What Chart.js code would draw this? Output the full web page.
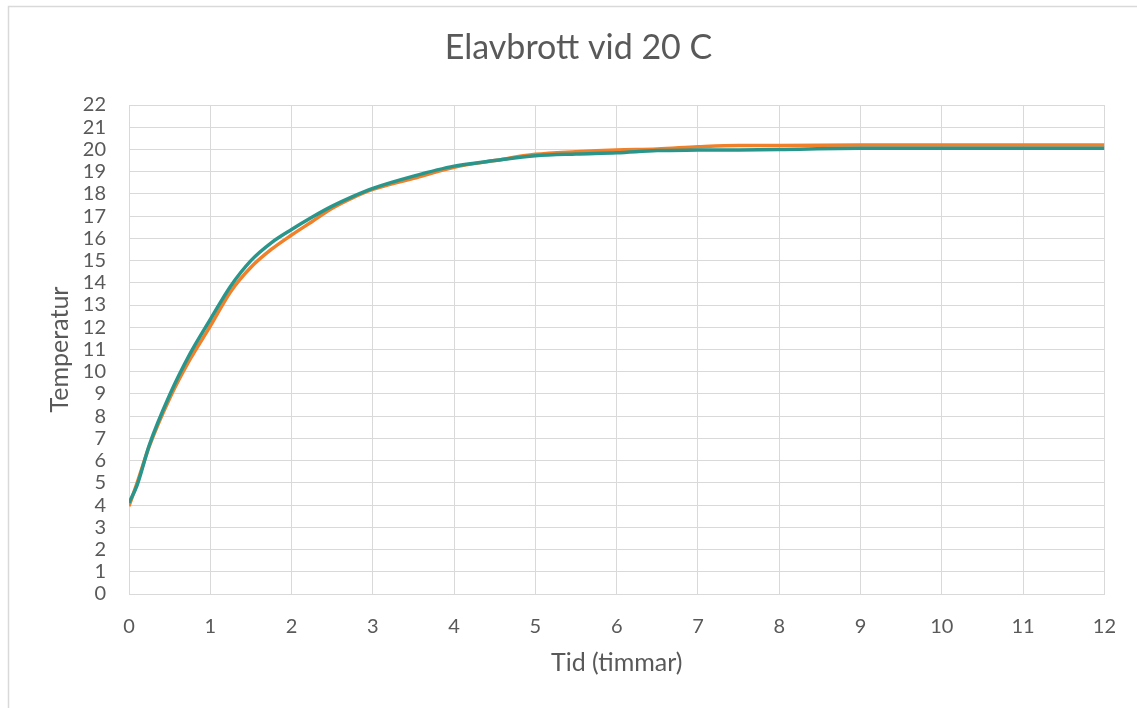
<!DOCTYPE html>
<html>
<head>
<meta charset="utf-8">
<script src="https://cdn.jsdelivr.net/npm/chart.js@4/dist/chart.umd.min.js"></script>
<style>
  html, body { margin: 0; padding: 0; background: #ffffff; }
  #wrap { width: 1137px; height: 708px; position: relative; }
</style>
</head>
<body>
<div id="wrap"><canvas id="c" width="1137" height="708"></canvas></div>
<script>
const chartTitle = "Elavbrott vid 20 C";
const xTitle = "Tid (timmar)";
const yTitle = "Temperatur";

const times = [0, 0.1, 0.25, 0.5, 0.75, 1, 1.25, 1.5, 1.75, 2, 2.25, 2.5, 2.75, 3, 3.5, 4, 4.5, 5, 5.5, 6, 6.5, 7, 7.5, 8, 9, 10, 11, 12];
const tealValues = [4.1, 4.9, 6.7, 8.95, 10.8, 12.35, 13.85, 15.0, 15.8, 16.4, 16.95, 17.45, 17.88, 18.25, 18.8, 19.25, 19.5, 19.72, 19.8, 19.85, 19.95, 19.97, 19.98, 20.0, 20.05, 20.05, 20.05, 20.05];
const orangeValues = [3.95, 5.0, 6.65, 8.8, 10.55, 12.05, 13.6, 14.7, 15.5, 16.15, 16.75, 17.35, 17.82, 18.2, 18.7, 19.2, 19.5, 19.78, 19.9, 19.98, 20.02, 20.12, 20.18, 20.18, 20.2, 20.2, 20.2, 20.2];

const tealColor = "#2A968B";
const orangeColor = "#F0802A";
const gridColor = "#D9D9D9";
const textColor = "#595959";
const fontFamily = "Lato, 'Open Sans', sans-serif";

const toPoints = (xs, ys) => xs.map((x, i) => ({ x: x, y: ys[i] }));

const frame = {
  id: 'frame',
  beforeDraw(chart) {
    const ctx = chart.ctx;
    ctx.save();
    ctx.fillStyle = '#ffffff';
    ctx.fillRect(0, 0, chart.width, chart.height);
    ctx.strokeStyle = gridColor;
    ctx.lineWidth = 1.5;
    ctx.strokeRect(8.5, 6.5, 1300, 900);
    ctx.restore();
  }
};

new Chart(document.getElementById('c'), {
  type: 'line',
  data: {
    datasets: [
      {
        label: 'B',
        data: toPoints(times, tealValues),
        borderColor: tealColor,
        borderWidth: 3.5,
        pointRadius: 0,
        cubicInterpolationMode: 'monotone',
        fill: false
      },
      {
        label: 'A',
        data: toPoints(times, orangeValues),
        borderColor: orangeColor,
        borderWidth: 3.5,
        pointRadius: 0,
        cubicInterpolationMode: 'monotone',
        fill: false
      }
    ]
  },
  options: {
    responsive: false,
    animation: false,
    devicePixelRatio: 1,
    layout: { padding: { left: 50, right: 30, top: 0, bottom: 0 } },
    plugins: {
      legend: { display: false },
      tooltip: { enabled: false },
      title: {
        display: true,
        text: chartTitle,
        color: textColor,
        font: { family: fontFamily, size: 34, weight: 'normal' },
        padding: { top: 27.6, bottom: 36.6 }
      }
    },
    scales: {
      x: {
        type: 'linear',
        min: 0, max: 12,
        ticks: {
          stepSize: 1,
          color: textColor,
          padding: 21,
          font: { family: fontFamily, size: 20 }
        },
        grid: { color: gridColor, lineWidth: 1, drawTicks: false },
        border: { color: gridColor, width: 1 },
        title: {
          display: true,
          text: xTitle,
          color: textColor,
          font: { family: fontFamily, size: 25 },
          padding: { top: 0, bottom: 30 }
        },
        afterFit(scale) { scale.height = 114; }
      },
      y: {
        type: 'linear',
        min: 0, max: 22,
        ticks: {
          stepSize: 1,
          autoSkip: false,
          color: textColor,
          padding: 23,
          font: { family: fontFamily, size: 20 }
        },
        grid: { color: gridColor, lineWidth: 1, drawTicks: false },
        border: { color: gridColor, width: 1 },
        title: {
          display: true,
          text: yTitle,
          color: textColor,
          font: { family: fontFamily, size: 25 },
          padding: { top: -5, bottom: 0 }
        },
        afterFit(scale) { scale.width = 79; }
      }
    }
  },
  plugins: [frame]
});
</script>
</body>
</html>
